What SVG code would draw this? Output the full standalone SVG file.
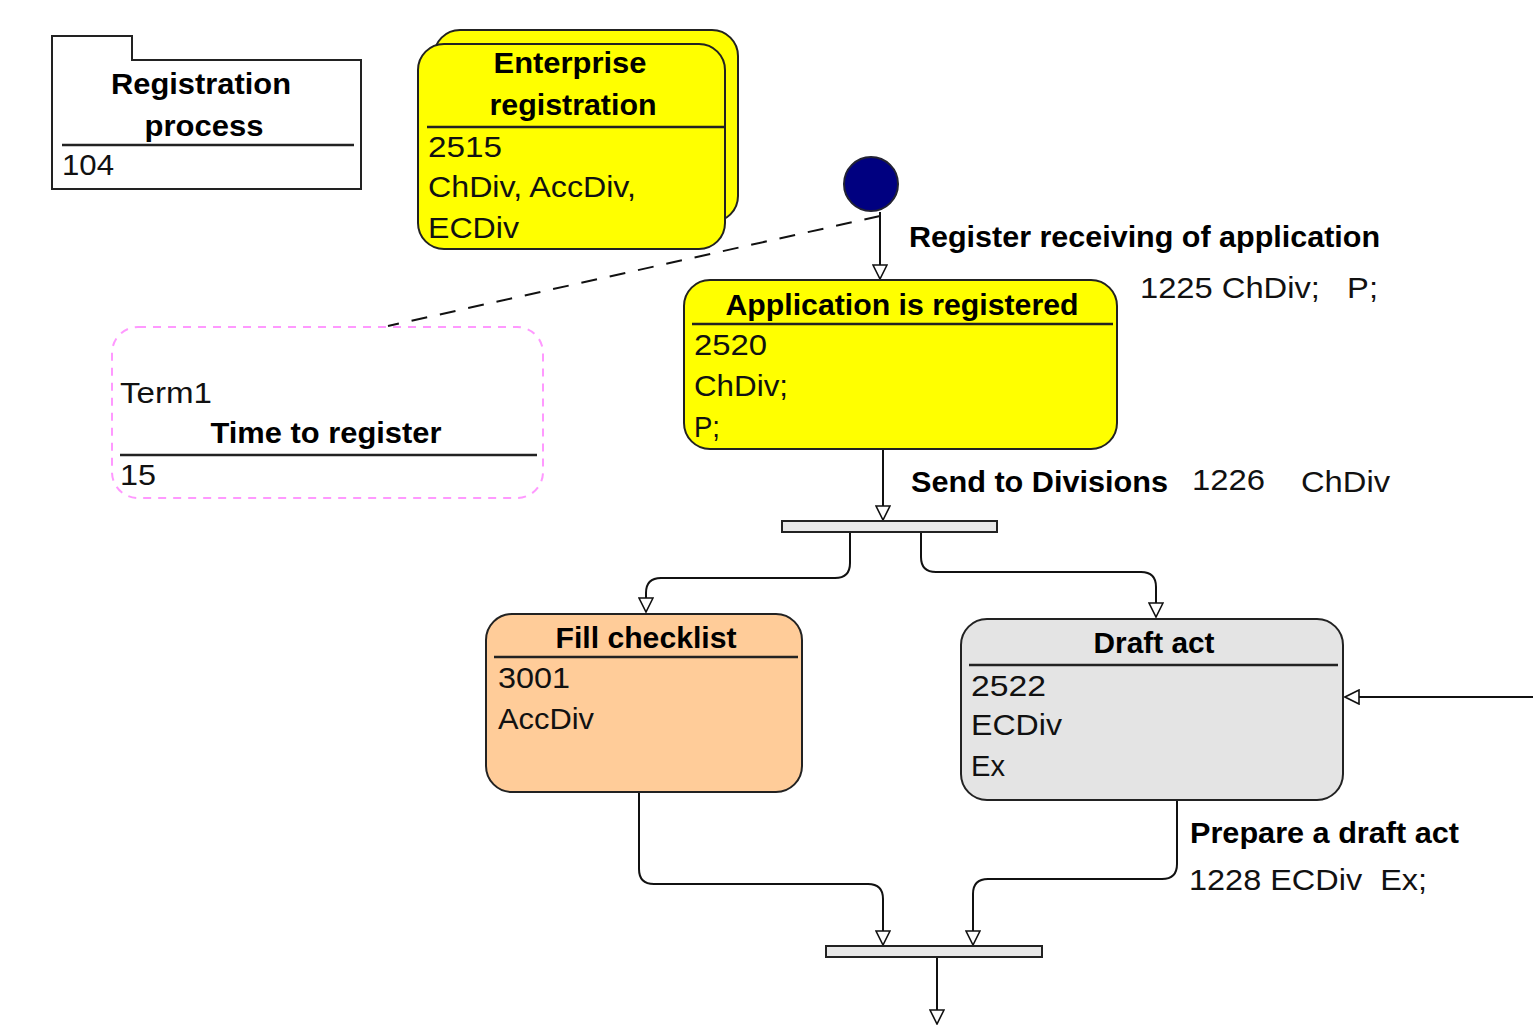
<svg xmlns="http://www.w3.org/2000/svg" width="1533" height="1025" viewBox="0 0 1533 1025">
<defs>
<style>
.b{font-family:"Liberation Sans",Arial,sans-serif;font-weight:bold;font-size:29px;fill:#000}
.r{font-family:"Liberation Sans",Arial,sans-serif;font-size:30px;fill:#111}
.node{stroke:#222;stroke-width:2}
.sep{stroke:#222;stroke-width:2.5}
.conn{fill:none;stroke:#111;stroke-width:2}
</style>
<marker id="arr" viewBox="0 0 16 16" refX="15" refY="8" markerWidth="16" markerHeight="16" markerUnits="userSpaceOnUse" orient="auto">
<path d="M1,1 L15,8 L1,15 z" fill="#fff" stroke="#111" stroke-width="1.6"/>
</marker>
</defs>
<rect width="1533" height="1025" fill="#fff"/>

<g id="connectors">
<path class="conn" d="M880 212 V279" marker-end="url(#arr)"/>
<path class="conn" d="M880 216 L388 326" stroke-dasharray="16 13"/>
<path class="conn" d="M883 449 V520" marker-end="url(#arr)"/>
<path class="conn" d="M850 532 V563 Q850 578 835 578 H661 Q646 578 646 593 V612" marker-end="url(#arr)"/>
<path class="conn" d="M921 532 V557 Q921 572 936 572 H1141 Q1156 572 1156 587 V617" marker-end="url(#arr)"/>
<path class="conn" d="M1533 697 H1345" marker-end="url(#arr)"/>
<path class="conn" d="M639 792 V869 Q639 884 654 884 H868 Q883 884 883 899 V945" marker-end="url(#arr)"/>
<path class="conn" d="M1177 800 V864 Q1177 879 1162 879 H988 Q973 879 973 894 V945" marker-end="url(#arr)"/>
<path class="conn" d="M937 957 V1024" marker-end="url(#arr)"/>
<text class="b" x="909" y="247" textLength="471" lengthAdjust="spacingAndGlyphs">Register receiving of application</text>
<text class="r" x="1140" y="298" textLength="238" lengthAdjust="spacingAndGlyphs" xml:space="preserve">1225 ChDiv;   P;</text>
<text class="b" x="911" y="492" textLength="257" lengthAdjust="spacingAndGlyphs">Send to Divisions</text>
<text class="r" x="1192" y="490" textLength="73" lengthAdjust="spacingAndGlyphs">1226</text>
<text class="r" x="1301" y="492" textLength="89" lengthAdjust="spacingAndGlyphs">ChDiv</text>
<text class="b" x="1190" y="843" textLength="269" lengthAdjust="spacingAndGlyphs">Prepare a draft act</text>
<text class="r" x="1189" y="890" textLength="238" lengthAdjust="spacingAndGlyphs" xml:space="preserve">1228 ECDiv  Ex;</text>
</g>

<g id="package">
<path class="node" d="M52 36 H132 V60 H361 V189 H52 Z" fill="#fff"/>
<line class="sep" x1="62" y1="145" x2="354" y2="145"/>
<text class="b" x="201" y="94" text-anchor="middle" textLength="180" lengthAdjust="spacingAndGlyphs">Registration</text>
<text class="b" x="204" y="136" text-anchor="middle" textLength="119" lengthAdjust="spacingAndGlyphs">process</text>
<text class="r" x="62" y="175" textLength="52" lengthAdjust="spacingAndGlyphs">104</text>
</g>

<g id="enterprise">
<rect class="node" x="434" y="30" width="304" height="192" rx="26" fill="#ffff00"/>
<rect class="node" x="418" y="44" width="307" height="205" rx="26" fill="#ffff00"/>
<line class="sep" x1="427" y1="127" x2="724" y2="127"/>
<text class="b" x="570" y="73" text-anchor="middle" textLength="153" lengthAdjust="spacingAndGlyphs">Enterprise</text>
<text class="b" x="573" y="115" text-anchor="middle" textLength="167" lengthAdjust="spacingAndGlyphs">registration</text>
<text class="r" x="428" y="157" textLength="74" lengthAdjust="spacingAndGlyphs">2515</text>
<text class="r" x="428" y="197" textLength="208" lengthAdjust="spacingAndGlyphs">ChDiv, AccDiv,</text>
<text class="r" x="428" y="238" textLength="91" lengthAdjust="spacingAndGlyphs">ECDiv</text>
</g>

<g id="initial">
<circle cx="871" cy="184" r="27" fill="#000080" stroke="#223" stroke-width="2"/>
</g>

<g id="application">
<rect class="node" x="684" y="280" width="433" height="169" rx="26" fill="#ffff00"/>
<line class="sep" x1="692" y1="324" x2="1113" y2="324"/>
<text class="b" x="902" y="315" text-anchor="middle" textLength="353" lengthAdjust="spacingAndGlyphs">Application is registered</text>
<text class="r" x="694" y="355" textLength="73" lengthAdjust="spacingAndGlyphs">2520</text>
<text class="r" x="694" y="396" textLength="94" lengthAdjust="spacingAndGlyphs">ChDiv;</text>
<text class="r" x="694" y="437" textLength="26" lengthAdjust="spacingAndGlyphs">P;</text>
</g>

<g id="term">
<rect x="112" y="327" width="431" height="171" rx="26" fill="#fff" stroke="#ff99ff" stroke-width="2" stroke-dasharray="8 7"/>
<line class="sep" x1="120" y1="455" x2="537" y2="455"/>
<text class="r" x="120" y="403" textLength="92" lengthAdjust="spacingAndGlyphs">Term1</text>
<text class="b" x="326" y="443" text-anchor="middle" textLength="231" lengthAdjust="spacingAndGlyphs">Time to register</text>
<text class="r" x="120" y="485" textLength="36" lengthAdjust="spacingAndGlyphs">15</text>
</g>

<g id="fork">
<rect class="node" x="782" y="521" width="215" height="11" fill="#e8e8e8"/>
</g>

<g id="fill-checklist">
<rect class="node" x="486" y="614" width="316" height="178" rx="26" fill="#ffcc99"/>
<line class="sep" x1="494" y1="657" x2="798" y2="657"/>
<text class="b" x="646" y="648" text-anchor="middle" textLength="181" lengthAdjust="spacingAndGlyphs">Fill checklist</text>
<text class="r" x="498" y="688" textLength="72" lengthAdjust="spacingAndGlyphs">3001</text>
<text class="r" x="498" y="729" textLength="96" lengthAdjust="spacingAndGlyphs">AccDiv</text>
</g>

<g id="draft-act">
<rect class="node" x="961" y="619" width="382" height="181" rx="26" fill="#e4e4e4"/>
<line class="sep" x1="969" y1="665" x2="1338" y2="665"/>
<text class="b" x="1154" y="653" text-anchor="middle" textLength="121" lengthAdjust="spacingAndGlyphs">Draft act</text>
<text class="r" x="971" y="696" textLength="75" lengthAdjust="spacingAndGlyphs">2522</text>
<text class="r" x="971" y="735" textLength="91" lengthAdjust="spacingAndGlyphs">ECDiv</text>
<text class="r" x="971" y="776" textLength="34" lengthAdjust="spacingAndGlyphs">Ex</text>
</g>

<g id="join">
<rect class="node" x="826" y="946" width="216" height="11" fill="#e8e8e8"/>
</g>
</svg>
